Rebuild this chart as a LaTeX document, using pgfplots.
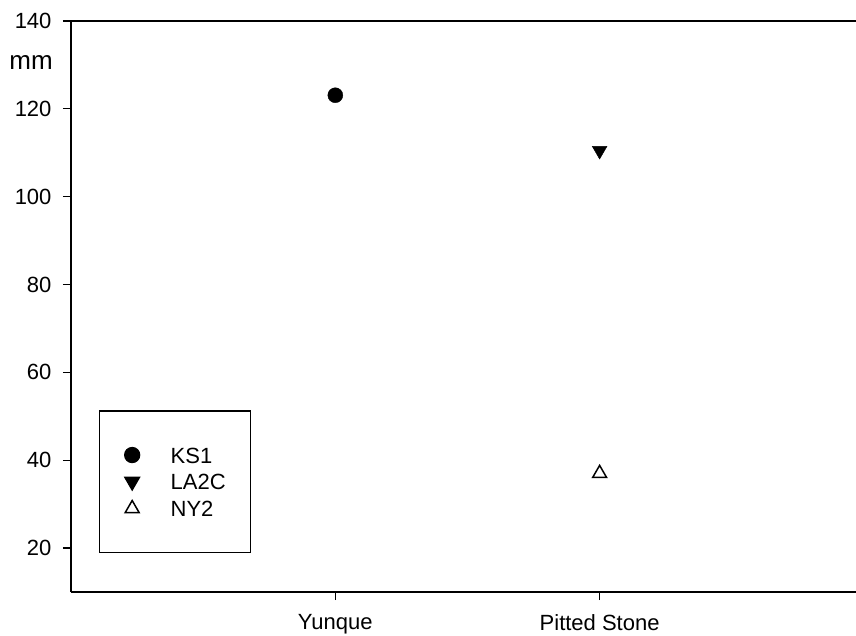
\documentclass[border=0pt]{standalone}
\usepackage{fontspec}
\setmainfont{Liberation Sans}
\usepackage{pgfplots}
\pgfplotsset{compat=1.18}
\begin{document}
\begin{tikzpicture}[x=1pt,y=1pt]
\useasboundingbox (0,0) rectangle (856,635);
\begin{axis}[
  at={(71pt,43pt)}, anchor=south west,
  scale only axis, width=785pt, height=571pt,
  xmin=0, xmax=2.97, ymin=10, ymax=140,
  axis lines=left, axis line style={-, line width=1.3pt},
  clip=false,
  xtick={1,2}, xticklabels={Yunque, Pitted Stone},
  ytick={20,40,60,80,100,120,140},
  tick align=outside, major tick length=8pt,
  tick style={line width=1.3pt, black},
  /pgf/number format/assume math mode=true,
  tick label style={font=\fontsize{22}{26}\selectfont},
  yticklabel style={xshift=-8pt},
  xticklabel style={yshift=-11pt},
  legend cell align=left,
  legend image code/.code={\draw[mark repeat=2,mark phase=2,#1] plot coordinates {(0pt,0pt) (8pt,0pt) (16pt,0pt)};},
  legend style={at={(axis description cs:0.0357,0.068)}, anchor=south west,
    draw=black, line width=1.3pt, inner xsep=25pt, inner ysep=36pt,
    font=\fontsize{22}{26}\selectfont,
    nodes={inner sep=0pt, text height=16pt, text depth=0pt},
    row sep=10.5pt, column sep=31pt},
]
\addplot[only marks, mark=*, mark size=7.5pt, black] coordinates {(1,123.1)};
\addlegendentry{KS1}
\addplot[only marks, mark=triangle*, mark size=8.5pt, black, mark options={rotate=180}] coordinates {(2,110.5)};
\addlegendentry{LA2C}
\addplot[only marks, mark=triangle, mark size=8pt, black, mark options={fill=white, line width=1.5pt}] coordinates {(2,37)};
\addlegendentry{NY2}
\draw[line width=1.3pt] (rel axis cs:0,1) -- (rel axis cs:1,1);
\node[anchor=east, inner sep=0pt, font=\fontsize{26}{30}\selectfont] at (axis cs:0,130.5) [xshift=-18pt] {mm};
\end{axis}
\end{tikzpicture}
\end{document}
